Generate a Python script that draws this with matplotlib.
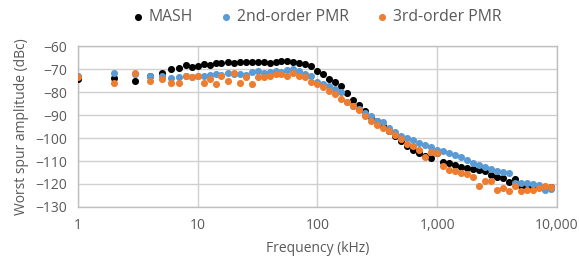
import numpy as np
import matplotlib
matplotlib.use("Agg")
import matplotlib.pyplot as plt
from matplotlib.ticker import FixedLocator, NullLocator

# frequency points (kHz)
freq = [1, 2, 3, 4, 5, 6, 7, 8, 9,
        10, 11.2, 12.6, 14.1, 15.8, 17.8, 20, 22.4, 25.1, 28.2,
        31.6, 35.5, 39.8, 44.7, 50.1, 56.2, 63.1, 70.8, 79.4, 89.1,
        100, 112, 126, 141, 158, 178, 200, 224, 251, 282,
        316, 355, 398, 447, 501, 562, 631, 708, 794, 891,
        1000, 1122, 1259, 1413, 1585, 1778, 1995, 2239, 2512, 2818,
        3162, 3548, 3981, 4467, 5012, 5623, 6310, 7079, 7943, 8913]

mash = [-74.3, -74.0, -75.3, -73.0, -71.8, -70.0, -69.5, -68.4, -69.3,
        -68.8, -67.9, -68.4, -67.5, -67.2, -67.0, -67.2, -66.9, -67.1, -66.8,
        -67.0, -67.1, -67.2, -66.9, -66.6, -66.3, -66.8, -67.3, -67.8, -68.6,
        -70.8, -72.0, -74.3, -75.5, -77.2, -80.5, -83.3, -85.8, -88.2, -90.8,
        -92.8, -94.7, -96.8, -99.2, -101.2, -103.5, -105.0, -106.5, -107.8, -108.8,
        -106.5, -110.3, -110.8, -111.6, -112.4, -113.0, -113.5, -113.9, -114.5, -116.0,
        -117.0, -117.3, -119.3, -118.0, -121.0, -121.3, -121.4, -121.3, -121.6, -121.2]

pmr2 = [-73.0, -71.9, -72.2, -72.8, -73.0, -74.0, -73.6, -73.0, -73.3,
        -73.2, -73.0, -72.4, -72.1, -72.5, -71.8, -72.3, -72.0, -72.6, -71.2,
        -71.0, -71.5, -71.3, -70.8, -71.2, -70.5, -70.0, -71.0, -72.0, -73.0,
        -75.5, -76.5, -77.5, -78.5, -80.0, -84.5, -86.0, -87.5, -89.0, -90.5,
        -92.5, -93.0, -95.5, -97.5, -99.0, -100.0, -101.0, -102.3, -103.2, -104.0,
        -105.2, -105.8, -106.7, -107.6, -108.4, -109.6, -110.7, -111.6, -112.5, -113.3,
        -114.2, -114.8, -115.3, -119.5, -119.7, -119.5, -119.8, -120.3, -122.6, -122.3]

pmr3 = [-73.5, -76.2, -71.6, -75.0, -74.5, -76.2, -76.2, -73.0, -73.3,
        -72.8, -76.1, -74.2, -76.4, -72.8, -75.0, -71.7, -76.1, -73.5, -76.4,
        -73.5, -73.5, -73.2, -72.3, -72.0, -72.8, -71.7, -72.8, -73.5, -75.7,
        -76.5, -78.0, -79.5, -80.8, -82.8, -84.5, -86.0, -88.0, -90.5, -92.8,
        -94.2, -95.6, -96.8, -98.5, -100.5, -102.8, -103.6, -105.2, -108.2, -106.0,
        -106.5, -112.0, -113.8, -114.5, -115.4, -115.7, -117.0, -121.0, -118.5, -118.7,
        -122.6, -121.9, -122.9, -120.9, -123.2, -122.8, -122.5, -121.8, -121.0, -121.3]

series_names = ["MASH", "2nd-order PMR", "3rd-order PMR"]
colors = ["#000000", "#5B9BD5", "#ED7D31"]

x_ticks = [1, 10, 100, 1000, 10000]
x_tick_labels = ["1", "10", "100", "1,000", "10,000"]
y_ticks = [-60, -70, -80, -90, -100, -110, -120, -130]

plt.rcParams["font.family"] = ["Open Sans", "DejaVu Sans"]
text_color = "#595959"

fig = plt.figure(figsize=(5.79, 2.65), dpi=100)
ax = fig.add_axes([0.1347, 0.219, 0.827, 0.607])

for name, vals, c in zip(series_names, [mash, pmr2, pmr3], colors):
    ax.scatter(freq, vals, s=26, color=c, label=name, zorder=3, linewidths=0)

ax.set_xscale("log")
ax.set_xlim(1, 10000)
ax.set_ylim(-130, -60)
ax.xaxis.set_major_locator(FixedLocator(x_ticks))
ax.xaxis.set_minor_locator(NullLocator())
ax.set_xticklabels(x_tick_labels)
ax.set_yticks(y_ticks)

ax.grid(True, color="#D0D0D0", linewidth=1.0)
ax.set_axisbelow(True)
for side in ["left", "right", "top", "bottom"]:
    ax.spines[side].set_color("#BFBFBF")
    ax.spines[side].set_linewidth(1.0)
ax.tick_params(axis="both", length=0, labelsize=10, colors=text_color, pad=8)

ax.set_xlabel("Frequency (kHz)", fontsize=10, color=text_color, labelpad=6)
ax.set_ylabel("Worst spur amplitude (dBc)", fontsize=10, color=text_color, labelpad=4)

leg = fig.legend(loc="upper center", bbox_to_anchor=(0.545, 1.02), ncol=3,
                 frameon=False, fontsize=11.3, handletextpad=0.2, columnspacing=1.6,
                 markerscale=1.0, handlelength=1.0)
for t in leg.get_texts():
    t.set_color(text_color)

fig.savefig("out.png", dpi=100)
